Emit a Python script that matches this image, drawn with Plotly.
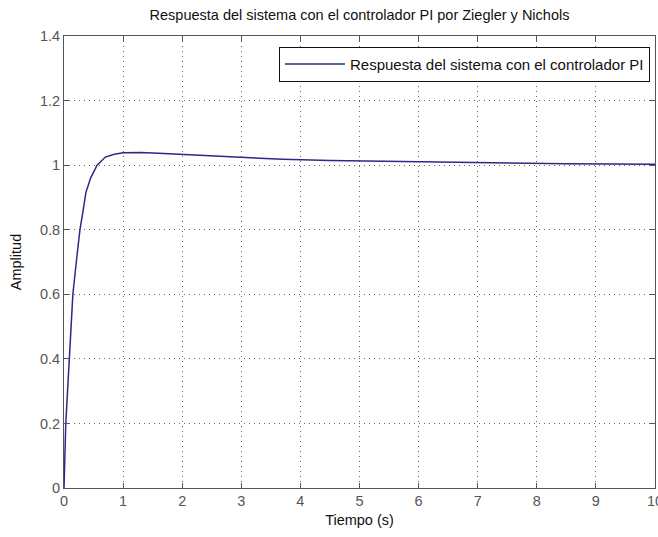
import plotly.graph_objects as go

t_vals = [0, 0.01, 0.03, 0.06, 0.1, 0.15, 0.22, 0.27, 0.32, 0.37, 0.45, 0.56, 0.7, 0.85,
          1.0, 1.3, 1.6, 2.0, 2.5, 3.0, 3.7, 4.5, 5.5, 6.5, 7.5, 8.5, 10]
y_vals = [0, 0.1, 0.2, 0.3, 0.42, 0.6, 0.72, 0.8, 0.855, 0.915, 0.96, 1.0, 1.025, 1.034,
          1.038, 1.039, 1.037, 1.033, 1.028, 1.023, 1.018, 1.014, 1.011, 1.008, 1.006, 1.004, 1.003]
x_ticks = [0, 1, 2, 3, 4, 5, 6, 7, 8, 9, 10]
y_ticks = [0, 0.2, 0.4, 0.6, 0.8, 1, 1.2, 1.4]
y_tick_labels = ["0", "0.2", "0.4", "0.6", "0.8", "1", "1.2", "1.4"]

FONT = "Liberation Sans, Arial"

axis_common = dict(
    showline=True, linecolor="#555555", linewidth=1, mirror="ticks",
    ticks="inside", ticklen=5, tickcolor="#555555",
    showgrid=True, gridcolor="#666666", griddash="1px,4px", gridwidth=1,
    zeroline=False, automargin=False, ticklabeloverflow="allow",
    tickfont=dict(family=FONT, size=14.5, color="#555555"),
)

fig = go.Figure()
fig.add_trace(go.Scatter(x=t_vals, y=y_vals, mode="lines",
                         line=dict(color="#2a2a88", width=1.5),
                         name="Respuesta del sistema con el controlador PI"))

fig.update_layout(
    width=658, height=537,
    margin=dict(l=64, r=3, t=36, b=49),
    paper_bgcolor="white", plot_bgcolor="white",
    title=dict(text="Respuesta del sistema con el controlador PI por Ziegler y Nichols",
               x=(64 + 655) / 2 / 658, xanchor="center", y=1 - 15 / 537, yanchor="middle",
               font=dict(family=FONT, size=14.5, color="#111111")),
    xaxis=dict(range=[0, 10], tickvals=x_ticks,
               title=dict(text="Tiempo (s)", standoff=6,
                          font=dict(family=FONT, size=14.5, color="#111111")),
               **axis_common),
    yaxis=dict(range=[0, 1.4], tickvals=y_ticks, ticktext=y_tick_labels,
               title=dict(text="Amplitud", standoff=14,
                          font=dict(family=FONT, size=14.5, color="#111111")),
               **axis_common),
    showlegend=True,
    legend=dict(x=0.9915, xanchor="right", y=0.976, yanchor="top",
                bgcolor="white", bordercolor="#111111", borderwidth=1,
                font=dict(family=FONT, size=15, color="#111111"),
                itemwidth=60),
)

fig.write_html("out.html")
